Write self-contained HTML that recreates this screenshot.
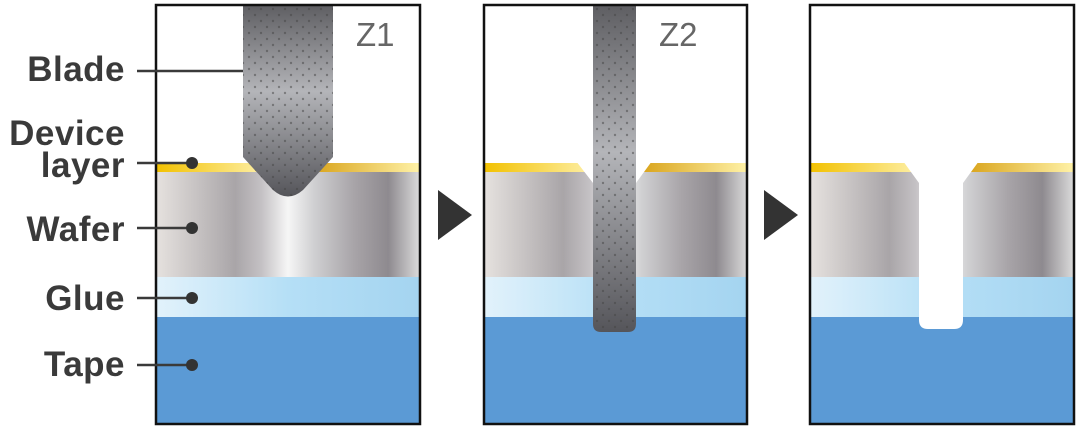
<!DOCTYPE html>
<html><head><meta charset="utf-8"><style>
html,body{margin:0;padding:0;background:#fff;width:1080px;height:430px;overflow:hidden}
text{font-family:"Liberation Sans",Arial,sans-serif;font-weight:bold;fill:#3a3a3a}
</style></head><body>
<svg width="1080" height="430" viewBox="0 0 1080 430" xmlns="http://www.w3.org/2000/svg">
<defs>
<linearGradient id="wafer" x1="0" x2="1" y1="0" y2="0">
<stop offset="0" stop-color="#e6e2df"/><stop offset="0.3" stop-color="#a9a5a8"/><stop offset="0.4" stop-color="#c4c1c4"/><stop offset="0.5" stop-color="#f6f6f6"/><stop offset="0.6" stop-color="#cfcfd1"/><stop offset="0.75" stop-color="#a8a4a8"/><stop offset="0.88" stop-color="#8e8a8f"/><stop offset="1" stop-color="#dcdcdc"/>
</linearGradient>
<linearGradient id="dev" x1="0" x2="1" y1="0" y2="0">
<stop offset="0" stop-color="#f2c100"/><stop offset="0.45" stop-color="#fff4b8"/><stop offset="0.6" stop-color="#d9a41c"/><stop offset="1" stop-color="#fff2a8"/>
</linearGradient>
<linearGradient id="glue" x1="0" x2="1" y1="0" y2="0">
<stop offset="0" stop-color="#e2f2fb"/><stop offset="0.5" stop-color="#b5dff6"/><stop offset="1" stop-color="#a4d4f0"/>
</linearGradient>
<linearGradient id="bladev" x1="0" x2="0" y1="0" y2="1">
<stop offset="0" stop-color="#5e5e62"/><stop offset="0.45" stop-color="#b4b5b9"/><stop offset="1" stop-color="#55555a"/>
</linearGradient>
<pattern id="dots" width="12" height="12" patternUnits="userSpaceOnUse">
<circle cx="3" cy="3" r="1.2" fill="#444"/><circle cx="9" cy="9" r="1.2" fill="#444"/>
</pattern>
<g id="layers">
<rect x="156" y="163" width="264" height="10" fill="url(#dev)"/>
<rect x="156" y="172" width="264" height="106" fill="url(#wafer)"/>
<rect x="156" y="277" width="264" height="41" fill="url(#glue)"/>
<rect x="156" y="317" width="264" height="106" fill="#5b9ad5"/>
</g>
</defs>

<use href="#layers"/>
<path d="M243,5 H333 V157 L303,190 Q288,203 273,190 L243,157 Z" fill="url(#bladev)"/>
<path d="M243,5 H333 V157 L303,190 Q288,203 273,190 L243,157 Z" fill="url(#dots)" opacity="0.5"/>
<rect x="156" y="5" width="264" height="419" fill="none" stroke="#111" stroke-width="2.5"/>
<text x="356" y="46" font-size="33" style="font-weight:normal;fill:#666">Z1</text>

<use href="#layers" transform="translate(328,0)"/>
<path d="M576,161 L593,183 L636,183 L652,161 Z" fill="#fff"/>
<path d="M593,5 H636 V324 Q636,332 628,332 H601 Q593,332 593,324 Z" fill="url(#bladev)"/>
<path d="M593,5 H636 V324 Q636,332 628,332 H601 Q593,332 593,324 Z" fill="url(#dots)" opacity="0.5"/>
<rect x="484" y="5" width="263" height="419" fill="none" stroke="#111" stroke-width="2.5"/>
<text x="659" y="46" font-size="33" style="font-weight:normal;fill:#666">Z2</text>

<use href="#layers" transform="translate(654,0)"/>
<path d="M903,161 L919,183 V320 Q919,329 928,329 H954 Q963,329 963,320 V183 L979,161 Z" fill="#fff"/>
<rect x="810" y="5" width="264" height="419" fill="none" stroke="#111" stroke-width="2.5"/>

<polygon points="438,190 472,215 438,240" fill="#333"/>
<polygon points="764,190 798,215 764,240" fill="#333"/>

<g stroke="#3a3a3a" stroke-width="2.5">
<line x1="137" y1="71" x2="243" y2="71"/>
<line x1="137" y1="163" x2="192" y2="163"/>
<line x1="137" y1="228" x2="192" y2="228"/>
<line x1="137" y1="298" x2="192" y2="298"/>
<line x1="137" y1="365" x2="192" y2="365"/>
</g>
<g fill="#333">
<circle cx="192" cy="163" r="6"/><circle cx="192" cy="228" r="6"/><circle cx="192" cy="298" r="6"/><circle cx="192" cy="365" r="6"/>
</g>
<g text-anchor="end" font-size="35" letter-spacing="0.5">
<text x="125" y="81">Blade</text>
<text x="125" y="145">Device</text>
<text x="125" y="177">layer</text>
<text x="125" y="241">Wafer</text>
<text x="125" y="310">Glue</text>
<text x="125" y="376">Tape</text>
</g>
</svg>
</body></html>
